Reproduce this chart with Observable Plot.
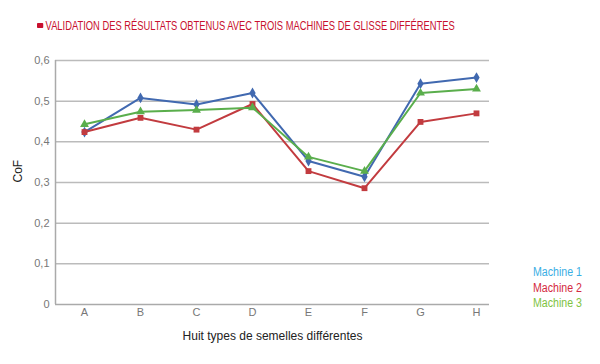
<!DOCTYPE html>
<html><head><meta charset="utf-8">
<script src="https://cdn.jsdelivr.net/npm/d3@7"></script>
<script src="https://cdn.jsdelivr.net/npm/@observablehq/plot@0.6"></script>
<style>
body{margin:0;background:#fff;font-family:"Liberation Sans",sans-serif;}
#wrap{position:relative;width:600px;height:364px;}
#title{height:45px;box-sizing:border-box;padding:19px 0 0 37px;font-size:12px;color:#c8102e;white-space:nowrap;}
#title .inner{display:inline-block;transform:scaleX(0.78);transform-origin:0 0;}
#title span.mk{display:inline-block;width:8px;height:5px;background:#c8102e;margin-right:3px;vertical-align:2px;border-radius:1px;}
#legend{position:absolute;left:533px;top:265px;font-size:12.5px;line-height:15.5px;transform:scaleX(0.85);transform-origin:0 0;}
</style></head>
<body><div id="wrap">
<div id="title"><span class="inner"><span class="mk"></span>VALIDATION DES RÉSULTATS OBTENUS AVEC TROIS MACHINES DE GLISSE DIFFÉRENTES</span></div>
<div id="chart"></div>
<div id="legend"></div>
</div>
<script>
const categories = ["A","B","C","D","E","F","G","H"];
const machine1 = [0.424,0.508,0.492,0.520,0.353,0.314,0.543,0.558];
const machine2 = [0.424,0.459,0.430,0.493,0.328,0.286,0.449,0.470];
const machine3 = [0.443,0.474,0.478,0.484,0.363,0.328,0.520,0.530];
const seriesNames = ["Machine 1","Machine 2","Machine 3"];
const lineColors = ["#4169b0","#c23b3f","#5aae4c"];
const legendColors = ["#3aaee4","#d42a40","#80c342"];
const symbols = ["diamond","square","triangle"];
const yTicks = [0,0.1,0.2,0.3,0.4,0.5,0.6];

const seriesValues = [machine1, machine2, machine3];
const data = [];
seriesValues.forEach((vals, s) => vals.forEach((v, i) => data.push({cat: categories[i], value: v, series: seriesNames[s]})));

const fmt = d => d === 0 ? "0" : d.toFixed(1).replace(".", ",");

const leftLine = (index, scales, values, dims) => {
  const g = d3.create("svg:line")
    .attr("x1", dims.marginLeft + 0.5).attr("x2", dims.marginLeft + 0.5)
    .attr("y1", dims.marginTop).attr("y2", dims.height - dims.marginBottom)
    .attr("stroke", "#aaa").attr("stroke-width", 1.5);
  return g.node();
};

const plot = Plot.plot({
  width: 600,
  height: 319,
  marginLeft: 55,
  marginRight: 111,
  marginTop: 15,
  marginBottom: 60,
  style: {fontFamily: '"Liberation Sans",sans-serif', fontSize: "11px", color: "#777", background: "transparent"},
  x: {type: "point", domain: categories, padding: 0, insetLeft: 27, insetRight: 12, label: null},
  y: {domain: [0, 0.6], label: null},
  color: {domain: seriesNames, range: lineColors},
  symbol: {domain: seriesNames, range: symbols},
  marks: [
    Plot.gridY(yTicks.filter(d => d > 0), {stroke: "#bbb", strokeOpacity: 1, strokeWidth: 1.5}),
    Plot.ruleY([0], {stroke: "#aaa", strokeWidth: 1.5}),
    leftLine,
    Plot.axisY({ticks: yTicks, tickFormat: fmt, tickSize: 0, tickPadding: 6, label: null, fill: "#777"}),
    Plot.axisX({tickSize: 0, tickPadding: 4, label: null, fill: "#777"}),
    Plot.lineY(data, {x: "cat", y: "value", stroke: "series", strokeWidth: 2, z: "series"}),
    Plot.dot(data, {x: "cat", y: "value", fill: "series", symbol: "series", r: 3.3, stroke: null}),
    Plot.text(["CoF"], {frameAnchor: "left", dx: -37, rotate: -90, fill: "#222", fontSize: 12}),
    Plot.text(["Huit types de semelles différentes"], {frameAnchor: "bottom", dy: 35, fill: "#222", fontSize: 12})
  ]
});
document.getElementById("chart").appendChild(plot);

const lg = document.getElementById("legend");
seriesNames.forEach((n, i) => {
  const d = document.createElement("div");
  d.textContent = n; d.style.color = legendColors[i];
  lg.appendChild(d);
});
</script>
</body></html>
